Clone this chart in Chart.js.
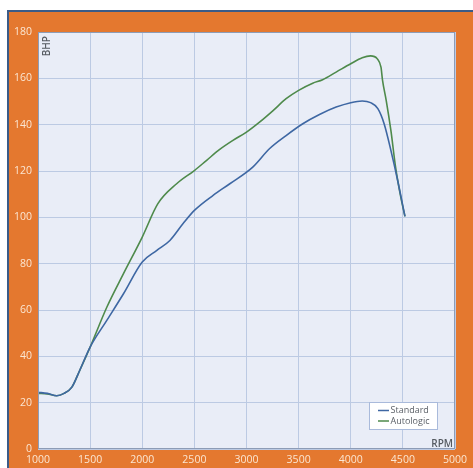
<!DOCTYPE html>
<html><head><meta charset="utf-8">
<script src="https://cdn.jsdelivr.net/npm/chart.js@4"></script>
<style>
html,body{margin:0;padding:0;background:#fff;width:473px;height:468px;overflow:hidden}
#frame{position:absolute;left:7px;top:10px;width:480px;height:470px;background:#e4782f;border-top:2px solid #3b5b87;border-left:2px solid #3b5b87}
#wrap{position:absolute;left:0;top:0;width:473px;height:468px}
</style></head><body>
<div id="frame"></div>
<div id="wrap"><canvas id="c" width="473" height="468"></canvas></div>
<script>
const xTickValues = [1000,1500,2000,2500,3000,3500,4000,4500,5000];
const yTickValues = [0,20,40,60,80,100,120,140,160,180];
const seriesNames = ['Standard','Autologic'];
const axisTitles = ['BHP','RPM'];

const standardRpm = [1000,1090,1180,1250,1325,1400,1500,1660,1820,2000,2140,2265,2390,2500,2680,2840,3060,3220,3380,3540,3700,3860,4000,4110,4190,4260,4320,4385,4450,4520];
const standardBhp = [24.5,24,23,24,26.7,33.9,44,55.5,67,80.7,85.7,90,97.2,103,109.5,114.5,121.7,129.6,135.3,140.4,144.4,147.6,149.5,150.2,149.5,146.9,140.4,128.9,115.9,100.4];

const autologicRpm = [1000,1090,1180,1250,1325,1400,1500,1660,1820,2000,2150,2330,2500,2615,2740,2870,3000,3125,3255,3380,3500,3635,3730,3860,4000,4110,4190,4255,4290,4305,4340,4385,4430,4480,4520];
const autologicBhp = [24,23.8,23,24,26.7,33.9,44,61.2,75.7,91.5,105.9,114.5,120.2,124.5,129.2,133.2,136.8,141.1,146.1,151.2,154.8,157.9,159.4,162.7,166.3,168.9,169.7,168.4,164.8,159.1,150.5,137.5,121.7,108.7,100.4];

const colors = ['#3e67a3','#4e8a4b'];
const tickColor = '#fbe6d2';
const gridColor = '#bccae3';
const plotBg = '#e9edf7';
const tickFont = {family:'Open Sans', size:10.5};

function pts(xs, ys){ return xs.map((x,i)=>({x:x, y:ys[i]})); }

const deco = {
  id:'deco',
  beforeDraw(chart){
    const {ctx, chartArea:a} = chart;
    ctx.save();
    ctx.fillStyle = plotBg;
    ctx.fillRect(a.left, a.top, a.right-a.left, a.bottom-a.top);
    ctx.restore();
  },
  afterDraw(chart){
    const {ctx, chartArea:a} = chart;
    ctx.save();
    ctx.strokeStyle = '#8d9cb6';
    ctx.lineWidth = 1;
    ctx.strokeRect(a.left+0.5, a.top+0.5, a.right-a.left-1, a.bottom-a.top-1);
    // axis titles
    ctx.fillStyle = '#555a60';
    ctx.font = '600 10px "Open Sans"';
    ctx.save();
    ctx.translate(a.left+12, a.top+4);
    ctx.rotate(-Math.PI/2);
    ctx.textAlign = 'right';
    ctx.textBaseline = 'alphabetic';
    ctx.fillText(axisTitles[0], 0, 0);
    ctx.restore();
    ctx.textAlign = 'right';
    ctx.textBaseline = 'alphabetic';
    ctx.fillText(axisTitles[1], a.right-2, a.bottom-2);
    // legend
    const lx = a.left + 331, ly = a.top + 370, lw = 69, lh = 28;
    ctx.fillStyle = '#ffffff';
    ctx.fillRect(lx, ly, lw, lh);
    ctx.strokeStyle = '#a9badb';
    ctx.strokeRect(lx+0.5, ly+0.5, lw-1, lh-1);
    ctx.font = '9px "Open Sans"';
    ctx.textAlign = 'left';
    ctx.textBaseline = 'middle';
    chart.data.datasets.forEach((ds,i)=>{
      const yy = ly + 8.5 + i*10.5;
      ctx.strokeStyle = ds.borderColor;
      ctx.lineWidth = 1.5;
      ctx.beginPath(); ctx.moveTo(lx+9, yy); ctx.lineTo(lx+20, yy); ctx.stroke();
      ctx.fillStyle = '#5a5f66';
      ctx.fillText(ds.label, lx+21.5, yy);
    });
    ctx.restore();
  }
};

new Chart(document.getElementById('c'), {
  type:'line',
  data:{datasets:[
    {label:seriesNames[0], data:pts(standardRpm, standardBhp), borderColor:colors[0], borderWidth:1.6, cubicInterpolationMode:'monotone', pointRadius:0, fill:false},
    {label:seriesNames[1], data:pts(autologicRpm, autologicBhp), borderColor:colors[1], borderWidth:1.6, cubicInterpolationMode:'monotone', pointRadius:0, fill:false}
  ]},
  options:{
    responsive:false, animation:false, devicePixelRatio:1,
    layout:{padding:{left:0, top:32, right:18, bottom:0}},
    plugins:{legend:{display:false}, tooltip:{enabled:false}},
    scales:{
      x:{type:'linear', min:1000, max:5000,
        afterBuildTicks:s=>{s.ticks = xTickValues.map(v=>({value:v}));},
        ticks:{color:tickColor, font:tickFont, padding:5, maxRotation:0, autoSkip:false, callback:v=>String(v)},
        grid:{color:gridColor, drawTicks:false, lineWidth:1},
        border:{display:false},
        afterFit:s=>{s.height = 19;}
      },
      y:{min:0, max:180,
        afterBuildTicks:s=>{s.ticks = yTickValues.map(v=>({value:v}));},
        ticks:{color:tickColor, font:tickFont, padding:6, autoSkip:false, callback:v=>String(v)},
        grid:{color:gridColor, drawTicks:false, lineWidth:1},
        border:{display:false},
        afterFit:s=>{s.width = 38;}
      }
    }
  },
  plugins:[deco]
});
</script>
</body></html>
